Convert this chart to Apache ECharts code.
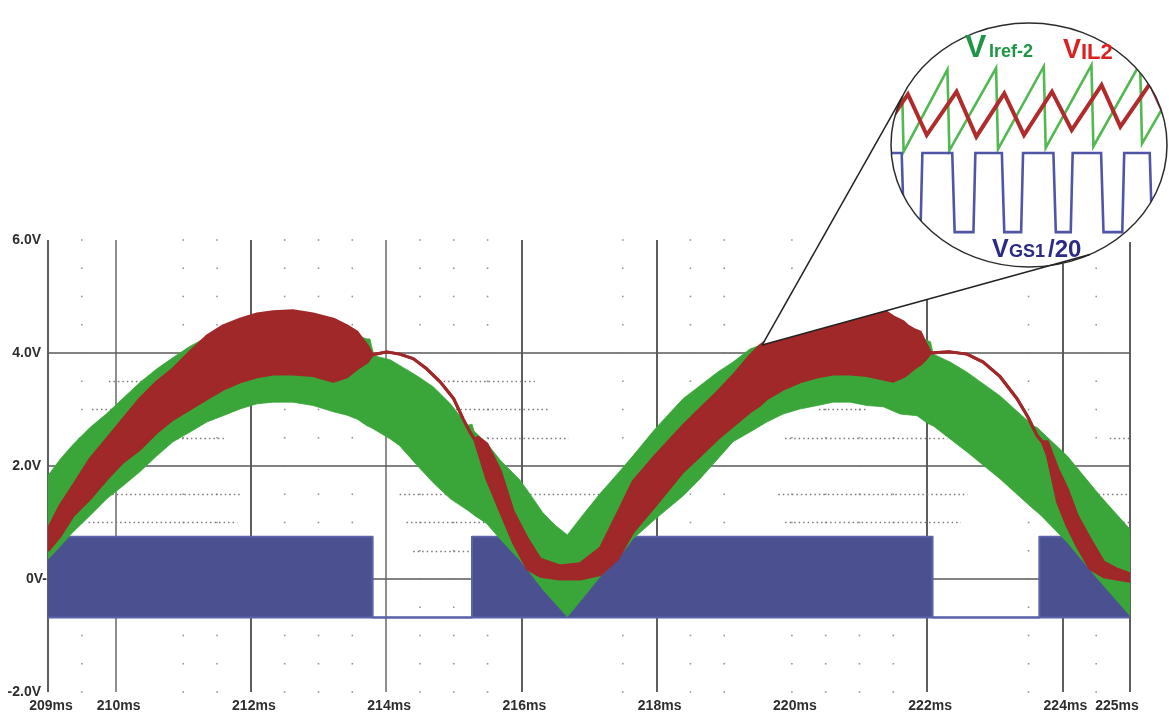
<!DOCTYPE html>
<html>
<head>
<meta charset="utf-8">
<title>VIref-2 / VIL2 / VGS1/20</title>
<script src="https://cdn.jsdelivr.net/npm/echarts@6/dist/echarts.min.js"></script>
<style>
  html, body { margin: 0; padding: 0; background: #ffffff; }
  #chart { width: 1169px; height: 713px; }
</style>
</head>
<body>
<div id="chart"></div>
<script>
// ---------- main traces: time in ms, level in V ----------
// V_Iref-2 envelope (green ripple band)
const greenTime = [
  209.00, 209.18, 209.37, 209.62, 209.87, 210.11, 210.36, 210.61, 210.85, 211.10,
  211.35, 211.59, 211.84, 212.09, 212.33, 212.62, 212.92, 213.22, 213.42, 213.57,
  213.72, 213.76, 213.82, 214.06, 214.20, 214.45, 214.70, 214.95, 215.20, 215.27,
  215.30, 215.49, 215.69, 215.98, 216.10, 216.32, 216.50, 216.68, 216.90, 217.17,
  217.42, 217.65, 217.98, 218.39, 218.64, 218.90, 219.13, 219.38, 219.63, 219.87,
  220.12, 220.38, 220.61, 220.86, 221.11, 221.35, 221.60, 221.85, 222.00, 222.05,
  222.09, 222.34, 222.59, 223.08, 223.57, 223.63, 223.68, 224.07, 224.56, 225.00
];
const greenLow = [
  0.35, 0.58, 0.83, 1.12, 1.42, 1.65, 1.90, 2.18, 2.43, 2.60,
  2.78, 2.89, 3.01, 3.10, 3.13, 3.13, 3.07, 2.96, 2.90, 2.83,
  2.71, 2.69, 2.65, 2.48, 2.36, 2.02, 1.70, 1.42, 1.22, 1.16,
  1.13, 0.98, 0.70, 0.33, 0.15, -0.19, -0.43, -0.67, -0.35, 0.05,
  0.35, 0.71, 1.06, 1.47, 1.77, 2.12, 2.43, 2.60, 2.78, 2.92,
  3.01, 3.07, 3.13, 3.13, 3.07, 3.05, 2.92, 2.89, 2.76, 2.73,
  2.71, 2.48, 2.25, 1.77, 1.24, 1.18, 1.13, 0.65, -0.05, -0.65
];
const greenHigh = [
  1.83, 2.12, 2.38, 2.68, 2.93, 3.20, 3.48, 3.72, 3.92, 4.12,
  4.28, 4.40, 4.50, 4.58, 4.62, 4.62, 4.58, 4.50, 4.40, 4.30,
  4.25, 4.25, 3.95, 3.88, 3.78, 3.60, 3.40, 3.10, 2.72, 2.74,
  2.62, 2.40, 2.10, 1.75, 1.55, 1.17, 0.95, 0.78, 1.12, 1.52,
  1.86, 2.18, 2.66, 3.19, 3.42, 3.66, 3.84, 4.07, 4.18, 4.28,
  4.35, 4.42, 4.48, 4.52, 4.55, 4.55, 4.45, 4.30, 4.22, 4.20,
  3.98, 3.84, 3.66, 3.24, 2.71, 2.68, 2.62, 2.18, 1.47, 0.88
];

// V_IL2 envelope (red band; collapses to a single curve where low == high)
const redTime = [
  209.00, 209.18, 209.37, 209.62, 209.87, 210.11, 210.36, 210.61, 210.85, 211.10,
  211.35, 211.59, 211.84, 212.09, 212.33, 212.62, 212.92, 213.22, 213.42, 213.57,
  213.72, 213.80, 214.01, 214.20, 214.40, 214.60, 214.80, 215.00, 215.14, 215.24,
  215.31, 215.36, 215.49, 215.69, 215.88, 216.09, 216.28, 216.57, 216.87, 217.17,
  217.42, 217.65, 217.98, 218.39, 218.64, 218.90, 219.13, 219.38, 219.53, 219.63,
  219.87, 220.12, 220.38, 220.61, 220.86, 221.11, 221.35, 221.50, 221.65, 221.71,
  221.80, 221.90, 221.97, 222.05, 222.34, 222.59, 222.83, 223.08, 223.33, 223.48,
  223.63, 223.70, 223.78, 223.93, 224.07, 224.22, 224.41, 224.61, 224.80, 225.00
];
const redLow = [
  0.50, 0.76, 1.12, 1.42, 1.77, 2.07, 2.30, 2.60, 2.83, 3.01,
  3.19, 3.36, 3.49, 3.58, 3.63, 3.63, 3.60, 3.50, 3.58, 3.72,
  3.84, 3.97, 4.02, 3.98, 3.90, 3.72, 3.49, 3.19, 2.83, 2.60,
  2.47, 2.27, 1.77, 1.19, 0.65, 0.18, 0.05, 0.00, 0.00, 0.08,
  0.35, 0.83, 1.30, 1.90, 2.18, 2.48, 2.71, 2.96, 3.08, 3.19,
  3.36, 3.49, 3.58, 3.63, 3.63, 3.60, 3.54, 3.50, 3.58, 3.63,
  3.72, 3.80, 3.88, 4.00, 4.02, 3.98, 3.84, 3.58, 3.19, 2.89,
  2.53, 2.43, 2.18, 1.36, 0.94, 0.58, 0.18, 0.04, 0.00, -0.04
];
const redHigh = [
  0.88, 1.30, 1.65, 2.12, 2.48, 2.83, 3.19, 3.49, 3.72, 4.02,
  4.30, 4.48, 4.60, 4.69, 4.73, 4.75, 4.69, 4.60, 4.48, 4.37,
  4.13, 3.97, 4.02, 3.98, 3.90, 3.72, 3.49, 3.19, 2.83, 2.60,
  2.47, 2.51, 2.39, 1.91, 1.19, 0.71, 0.35, 0.23, 0.27, 0.55,
  1.15, 1.72, 2.18, 2.71, 3.01, 3.31, 3.60, 3.95, 4.13, 4.22,
  4.32, 4.40, 4.48, 4.56, 4.64, 4.72, 4.76, 4.64, 4.55, 4.48,
  4.42, 4.37, 4.19, 4.00, 4.02, 3.98, 3.84, 3.58, 3.19, 2.89,
  2.53, 2.43, 2.43, 1.95, 1.60, 1.12, 0.71, 0.30, 0.18, 0.09
];

// V_GS1/20 (blue): switching bursts between low and high, idle stretches at low level
const blueTime = [209.00, 213.80, 213.80, 215.27, 215.27, 222.08, 222.08, 223.66, 223.66, 225.00];
const blueLow  = [-0.68, -0.68, -0.68, -0.68, -0.68, -0.68, -0.68, -0.68, -0.68, -0.68];
const blueHigh = [0.75, 0.75, -0.68, -0.68, 0.75, 0.75, -0.68, -0.68, 0.75, 0.75];

// ---------- axes and grid ----------
const xTickValues = [209, 210, 212, 214, 216, 218, 220, 222, 224, 225];
const xGridValues = [209, 210, 212, 214, 216, 218, 222, 224, 225];
const yGridValues = [0, 2, 4];
const minorColumns = [209.5, 211.0, 211.5, 212.5, 213.0, 213.5, 214.5, 215.0, 215.5,
                      217.5, 218.5, 219.0, 220.0, 220.5, 221.0, 221.5, 223.5, 224.5];
const minorRows = [-2, -1.5, -1, -0.5, 0, 0.5, 1, 1.5, 2, 2.5, 3, 3.5, 4, 4.5, 5, 5.5, 6];
// dotted minor-grid fragments: [level, from, to]
const dottedRows = [
  [3.5, 209.9, 210.4], [3.5, 214.85, 216.2],
  [3.0, 209.65, 209.95], [3.0, 214.9, 216.4], [3.0, 220.4, 221.1],
  [2.5, 209.45, 211.6], [2.5, 215.5, 216.7], [2.5, 219.9, 222.3], [2.5, 224.7, 225.0],
  [1.5, 209.95, 211.85], [1.5, 214.2, 217.6], [1.5, 219.8, 222.6], [1.5, 224.4, 225.0],
  [1.0, 209.6, 211.8], [1.0, 214.3, 215.7], [1.0, 219.9, 222.5], [1.0, 224.7, 225.0],
  [0.5, 214.4, 215.3]
];

// callout anchor on the trace (ms, V)
const calloutTime = 219.56;
const calloutLevel = 4.14;

// ---------- zoomed inset: x in switching periods, y in inset units ----------
const zoomIref = [[0, 7.3], [0.45, 9.42], [0.49, 4.9], [1.40, 9.47], [1.44, 4.97], [2.41, 9.55],
  [2.45, 5.05], [3.40, 9.64], [3.44, 5.12], [4.39, 9.72], [4.43, 5.2], [5.40, 9.8], [5.44, 5.35], [6.0, 7.95]];
const zoomIL = [[0.15, 6.4], [0.58, 8.1], [0.97, 5.83], [1.59, 8.24], [2.0, 5.74], [2.58, 8.15],
  [2.99, 5.83], [3.57, 8.24], [3.98, 6.11], [4.60, 8.61], [4.99, 6.3], [5.61, 8.7], [6.0, 6.4]];
const zoomGs = [[0, 4.83], [0.45, 4.83], [0.5, 0.44], [0.84, 0.44], [0.88, 4.83], [1.5, 4.83],
  [1.55, 0.44], [1.94, 0.44], [1.98, 4.83], [2.53, 4.83], [2.58, 0.44], [2.93, 0.44], [2.97, 4.83],
  [3.6, 4.83], [3.65, 0.44], [3.96, 0.44], [4.0, 4.83], [4.59, 4.83], [4.64, 0.44], [5.03, 0.44],
  [5.07, 4.83], [5.6, 4.83], [5.65, 0.44], [6.0, 0.44]];

// ---------- styling ----------
const tickFont = "'Liberation Sans Narrow','Liberation Sans',Arial,sans-serif";
const labelFont = "'Liberation Sans',Arial,sans-serif";
const tickText = { fontFamily: tickFont, fontWeight: 'bold', fontSize: 14, color: '#2e2e2e' };

// Filled band between a low and a high envelope, with optional edge strokes
function bandSeries(id, time, low, high, fill, edge, edgeWidth, z) {
  return {
    type: 'custom', name: id, coordinateSystem: 'cartesian2d',
    xAxisIndex: 0, yAxisIndex: 0,
    data: [[time[0], low[0]]],
    z: z, silent: true, animation: false, clip: true,
    renderItem: (params, api) => {
      const upper = time.map((t, i) => api.coord([t, high[i]]));
      const lower = time.map((t, i) => api.coord([t, low[i]]));
      const children = [{
        type: 'polygon',
        shape: { points: upper.concat(lower.slice().reverse()) },
        style: { fill: fill, stroke: fill, lineWidth: 0.8 }
      }];
      if (edgeWidth > 0) {
        [upper, lower].forEach(pts => children.push({
          type: 'polyline', shape: { points: pts },
          style: { stroke: edge, lineWidth: edgeWidth, fill: null, lineJoin: 'round' }
        }));
      }
      return { type: 'group', children: children };
    }
  };
}

const minorDots = [];
minorColumns.forEach(t => minorRows.forEach(v => minorDots.push([t, v])));

const faintLine = v => v === 210 || v === 214;

const gridDecor = {
  type: 'scatter', name: 'grid', data: minorDots, symbol: 'rect', symbolSize: 1.6,
  itemStyle: { color: '#7a7a7a' }, z: 1, silent: true, animation: false,
  markLine: {
    silent: true, symbol: ['none', 'none'], z: 1, animation: false,
    label: { show: false },
    emphasis: { disabled: true },
    data: [
      ...xGridValues.map(v => ({ xAxis: v, lineStyle: { color: faintLine(v) ? '#8e8e8e' : '#5e5e5e', width: 2, type: 'solid' } })),
      ...yGridValues.map(v => ({ yAxis: v, lineStyle: { color: '#585858', width: 1.5, type: 'solid' } })),
      ...dottedRows.map(([v, t0, t1]) => [
        { coord: [t0, v], lineStyle: { color: '#7a7a7a', width: 1.3, type: [1.5, 3] } },
        { coord: [t1, v] }
      ])
    ]
  }
};

const insetLine = (name, data, color, width) => ({
  type: 'line', name: name, data: data, xAxisIndex: 1, yAxisIndex: 1,
  symbol: 'none', z: 20, silent: true, animation: false,
  lineStyle: { color: color, width: width, join: 'miter' }
});

const option = {
  animation: false,
  backgroundColor: '#ffffff',
  grid: [
    { left: 48, right: 39, top: 240, bottom: 21 },
    { left: 880, top: 60, width: 291, height: 180 }
  ],
  xAxis: [
    {
      type: 'value', min: 209, max: 225, interval: 1, gridIndex: 0,
      axisLine: { show: false },
      splitLine: { show: false },
      axisTick: { show: true, customValues: xTickValues, length: 5, lineStyle: { color: '#666666', width: 2 } },
      axisLabel: {
        customValues: xTickValues, margin: 7,
        formatter: v => (v === 225 ? '{e|' : '{n|') + v + 'ms}',
        rich: {
          n: Object.assign({ padding: [0, 0, 0, 6] }, tickText),
          e: Object.assign({ padding: [0, 26, 0, 0] }, tickText)
        }
      }
    },
    { type: 'value', min: 0, max: 6, gridIndex: 1, show: false }
  ],
  yAxis: [
    {
      type: 'value', min: -2, max: 6, interval: 2, gridIndex: 0,
      axisLine: { show: false }, axisTick: { show: false }, splitLine: { show: false },
      axisLabel: {
        margin: 1,
        formatter: v => v === 0 ? '{z|0V-}' : '{n|' + v.toFixed(1) + 'V}',
        rich: {
          n: Object.assign({ padding: [0, 6, 0, 0] }, tickText),
          z: Object.assign({}, tickText)
        }
      }
    },
    { type: 'value', min: 0, max: 10, gridIndex: 1, show: false }
  ],
  series: [
    gridDecor,
    bandSeries('VGS1/20', blueTime, blueLow, blueHigh, '#4b5091', '#5a62aa', 2, 2),
    bandSeries('VIref-2', greenTime, greenLow, greenHigh, '#3aa63a', '#3aa63a', 0, 3),
    bandSeries('VIL2', redTime, redLow, redHigh, '#a02828', '#a02828', 3, 4),
    insetLine('zoom VIref-2', zoomIref, '#52b852', 2.6),
    insetLine('zoom VIL2', zoomIL, '#b02c2c', 4),
    insetLine('zoom VGS1/20', zoomGs, '#4f56a6', 2.6)
  ]
};

const chart = echarts.init(document.getElementById('chart'), null, { renderer: 'canvas' });
chart.setOption(option);

// ---------- magnifier: ellipse, cone and labels ----------
const E = { cx: 1029, cy: 145, rx: 138, ry: 122 };
const ellipsePoint = deg => {
  const a = deg * Math.PI / 180;
  return [E.cx + E.rx * Math.cos(a), E.cy + E.ry * Math.sin(a)];
};
const ellipseX = (y, side) => {
  const k = (y - E.cy) / E.ry;
  return E.cx + side * E.rx * Math.sqrt(Math.max(0, 1 - k * k));
};

// white masks hiding the inset traces outside the ellipse
const maskTop = 48, maskBottom = 242, maskLeft = 876, maskRight = 1172;
const leftMask = [[maskLeft, maskTop]];
const rightMask = [[maskRight, maskTop]];
for (let y = maskTop; y <= maskBottom; y += 2) {
  leftMask.push([ellipseX(y, -1), y]);
  rightMask.push([ellipseX(y, 1), y]);
}
leftMask.push([maskLeft, maskBottom]);
rightMask.push([maskRight, maskBottom]);

const anchor = chart.convertToPixel({ gridIndex: 0 }, [calloutTime, calloutLevel]);
const p1 = ellipsePoint(203.2);
const p2 = ellipsePoint(63.8);

const txt = (text, x, y, size, color) => ({
  type: 'text', x: x, y: y, z: 41, silent: true,
  style: {
    text: text, fill: color,
    font: 'bold ' + size + 'px ' + labelFont,
    textAlign: 'left', align: 'left',
    textVerticalAlign: 'middle', verticalAlign: 'middle'
  }
});

chart.setOption({
  graphic: [
    { type: 'polygon', z: 10, silent: true, shape: { points: [anchor, p1, [E.cx, E.cy], p2] }, style: { fill: '#ffffff' } },
    { type: 'ellipse', z: 10, silent: true, shape: { cx: E.cx, cy: E.cy, rx: E.rx, ry: E.ry }, style: { fill: '#ffffff' } },
    { type: 'polygon', z: 30, silent: true, shape: { points: leftMask }, style: { fill: '#ffffff' } },
    { type: 'polygon', z: 30, silent: true, shape: { points: rightMask }, style: { fill: '#ffffff' } },
    { type: 'ellipse', z: 40, silent: true, shape: { cx: E.cx, cy: E.cy, rx: E.rx, ry: E.ry }, style: { fill: 'none', stroke: '#2b2b2b', lineWidth: 1.5 } },
    { type: 'polyline', z: 40, silent: true, shape: { points: [anchor, p1] }, style: { stroke: '#222222', lineWidth: 1.5, fill: 'none' } },
    { type: 'polyline', z: 40, silent: true, shape: { points: [anchor, p2] }, style: { stroke: '#222222', lineWidth: 1.5, fill: 'none' } },
    txt('V', 965, 48, 32, '#1e9646'),
    txt('Iref-2', 989, 52, 18, '#1e9646'),
    txt('V', 1063, 51, 27, '#dc2020'),
    txt('IL2', 1081, 53, 22, '#dc2020'),
    txt('V', 992, 250, 25, '#2b2b85'),
    txt('GS1', 1009, 252, 18, '#2b2b85'),
    txt('/20', 1048, 250, 24, '#2b2b85')
  ]
});
</script>
</body>
</html>
